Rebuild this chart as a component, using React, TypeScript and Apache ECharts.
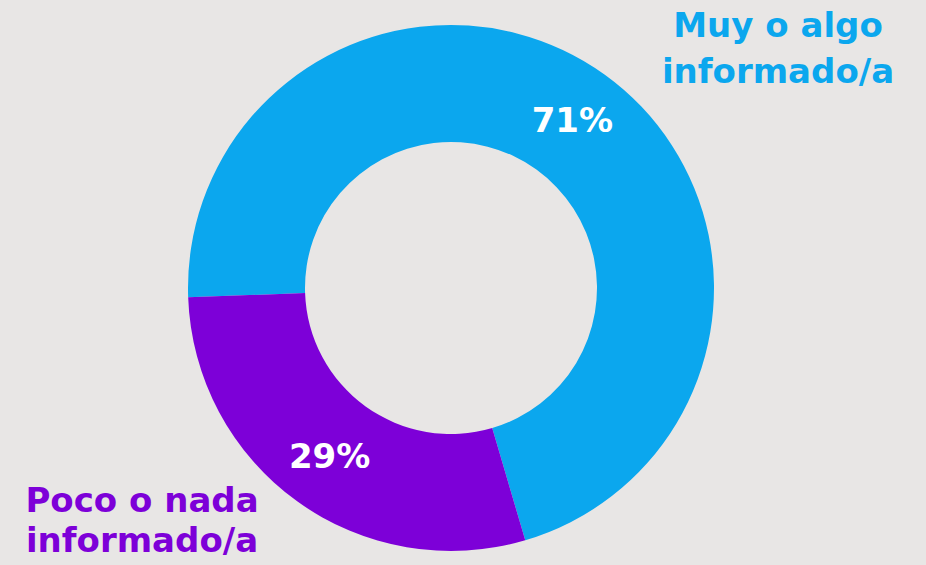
import React, { useEffect, useRef } from "react";
import * as echarts from "echarts";

const categories = ["Muy o algo informado/a", "Poco o nada informado/a"];
const values = [71, 29];
const colors = ["#0BA7EE", "#7D00D8"];
const labelLinesTop = ["Muy o algo", "informado/a"];
const labelLinesBottom = ["Poco o nada", "informado/a"];

const FONT = "'DejaVu Sans', sans-serif";

export default function App() {
  const ref = useRef<HTMLDivElement>(null);
  useEffect(() => {
    document.body.style.margin = "0";
    document.body.style.background = "#E8E6E5";
    const chart = echarts.init(ref.current!, null, { renderer: "svg" });
    chart.setOption({
      animation: false,
      backgroundColor: "#E8E6E5",
      series: [
        {
          type: "pie",
          center: [451, 288],
          radius: [146, 263],
          startAngle: 182,
          clockwise: true,
          silent: true,
          data: categories.map((c, i) => ({
            name: c,
            value: values[i],
            itemStyle: { color: colors[i] },
          })),
          label: {
            show: true,
            position: "inside",
            formatter: "{c}%",
            color: "#FFFFFF",
            fontFamily: FONT,
            fontWeight: "bold",
            fontSize: 34,
          },
          labelLine: { show: false },
        },
      ],
      graphic: [
        ...labelLinesTop.map((t, i) => ({
          type: "text",
          x: 778,
          y: 25 + i * 46,
          style: {
            text: t,
            fill: colors[0],
            font: `bold 34px ${FONT}`,
            textAlign: "center",
            textVerticalAlign: "middle",
          },
        })),
        ...labelLinesBottom.map((t, i) => ({
          type: "text",
          x: 142,
          y: 500 + i * 40,
          style: {
            text: t,
            fill: colors[1],
            font: `bold 34px ${FONT}`,
            textAlign: "center",
            textVerticalAlign: "middle",
          },
        })),
      ],
    });
    return () => chart.dispose();
  }, []);
  return (
    <div
      ref={ref}
      style={{ position: "absolute", left: 0, top: 0, width: 926, height: 565 }}
    />
  );
}
